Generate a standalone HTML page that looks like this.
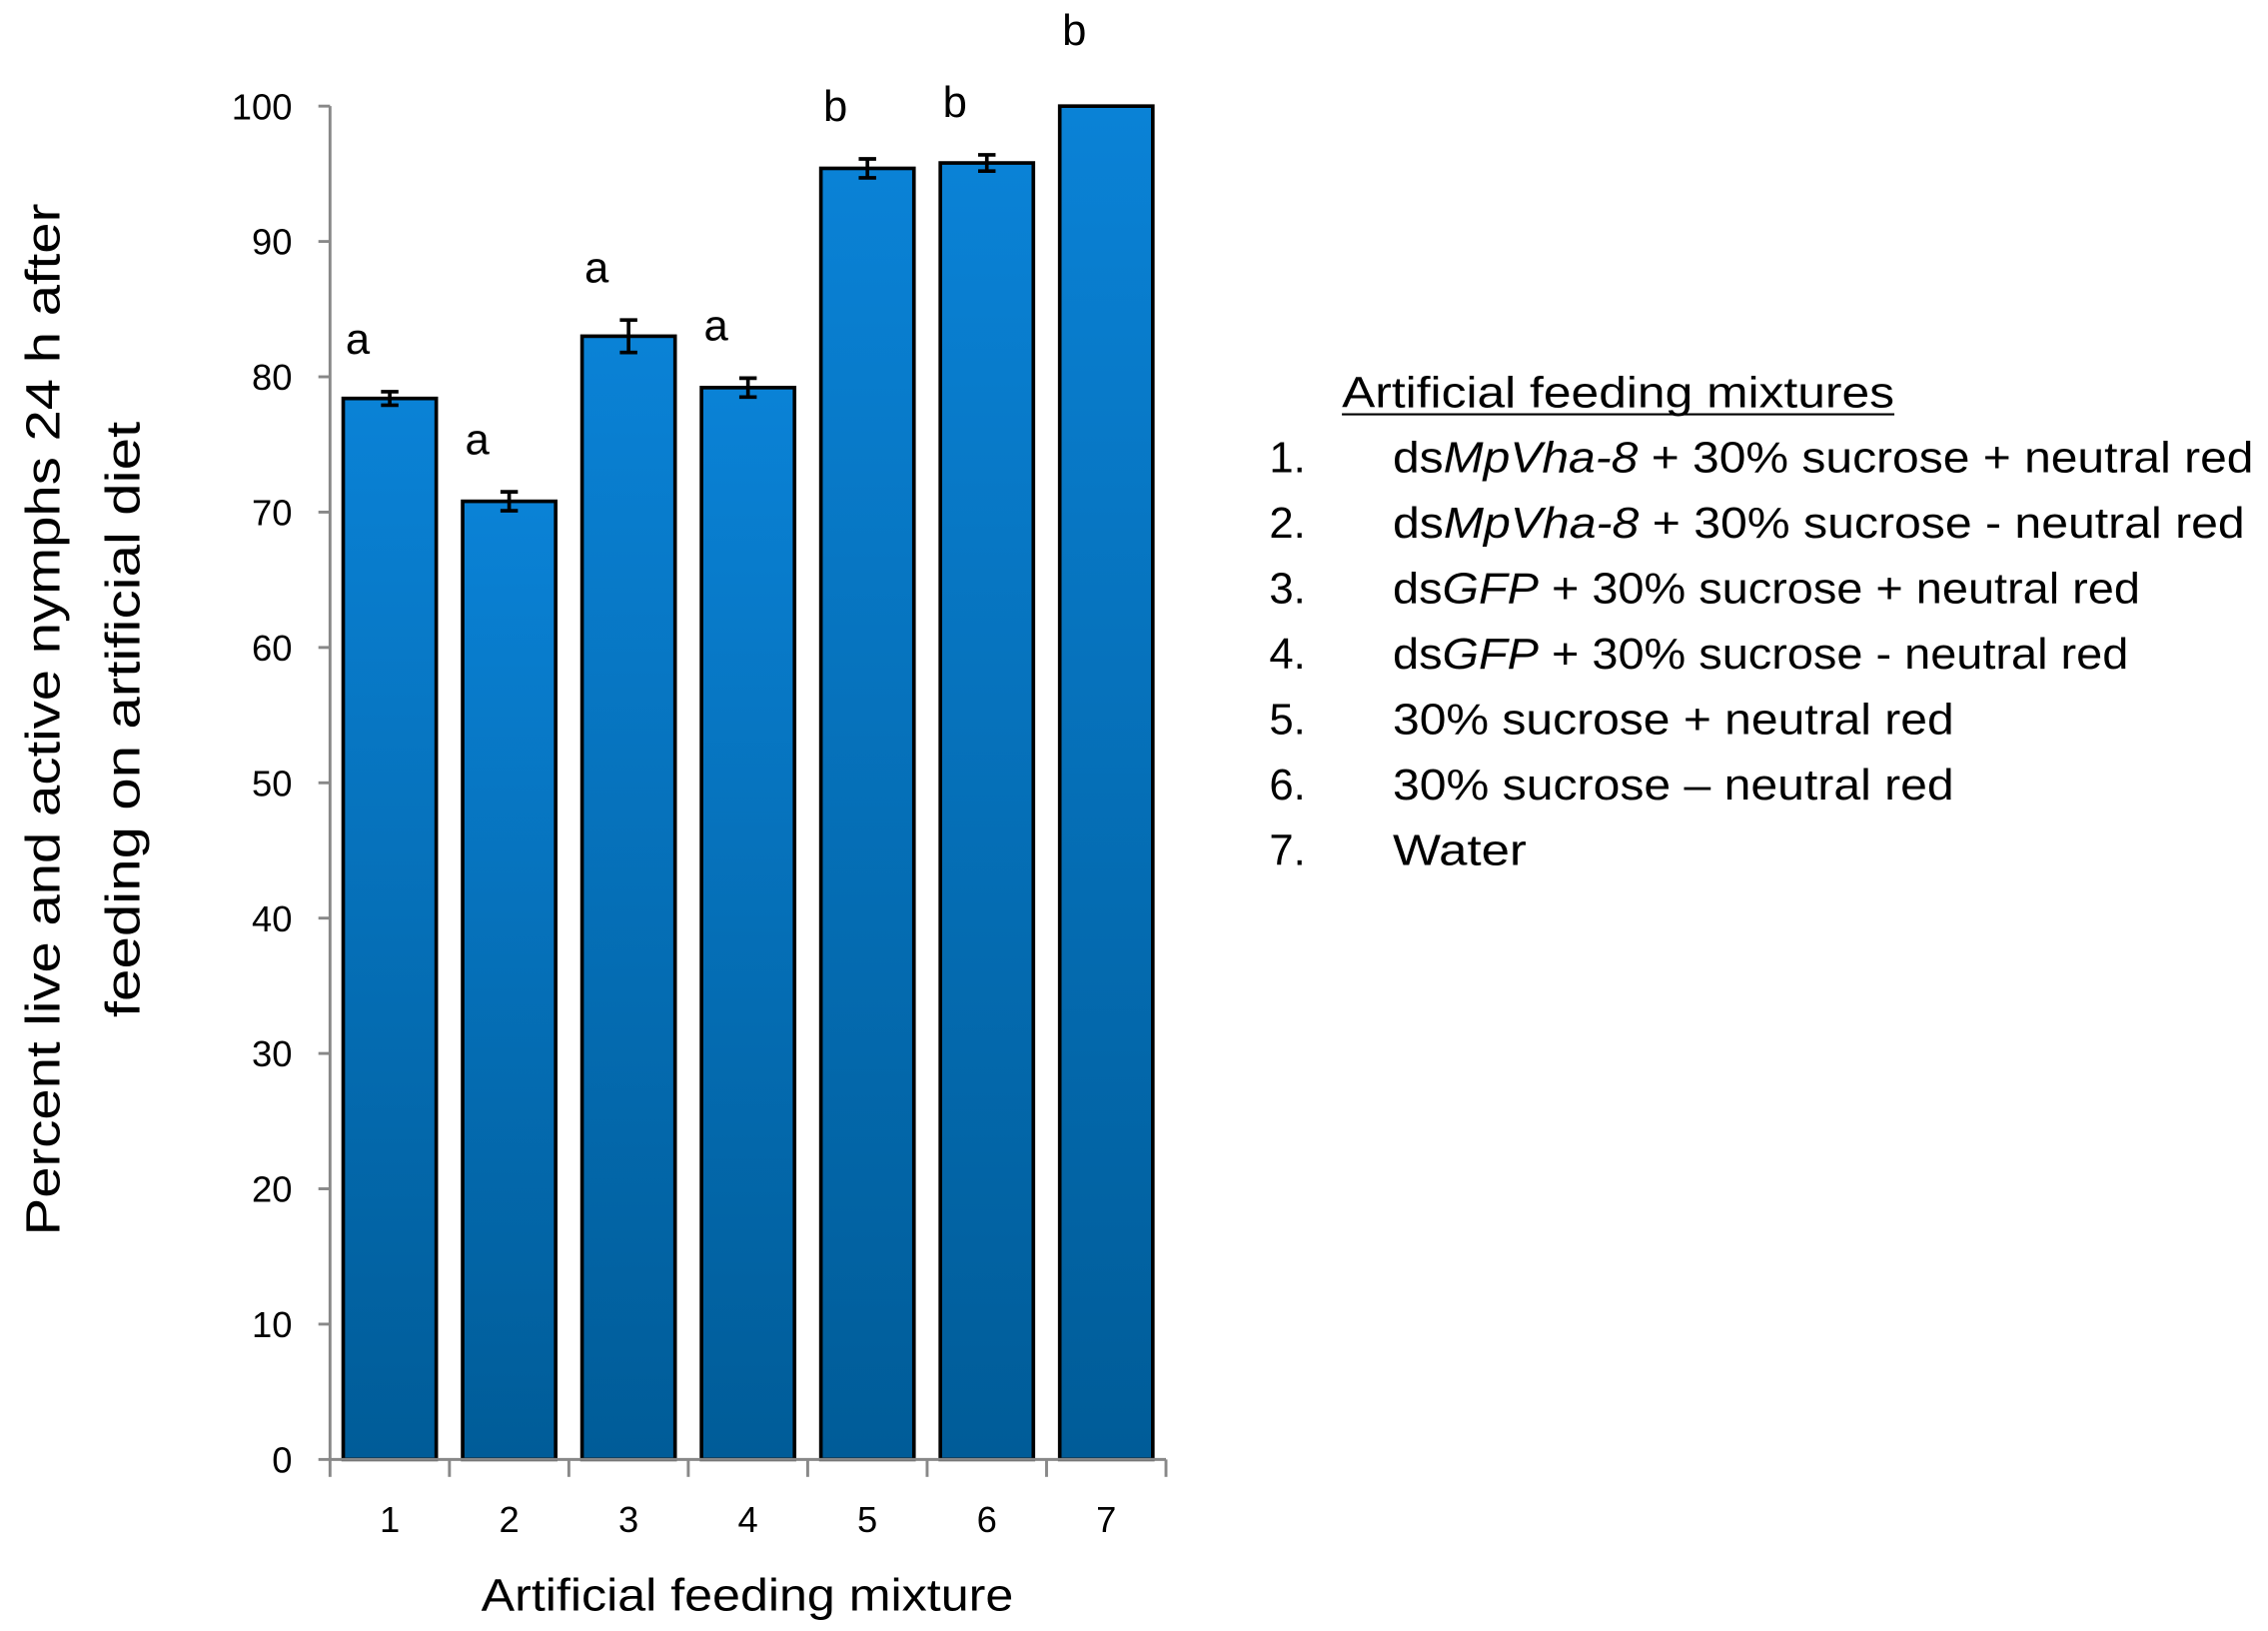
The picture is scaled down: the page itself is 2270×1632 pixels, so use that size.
<!DOCTYPE html>
<html><head><meta charset="utf-8"><style>html,body{margin:0;padding:0;background:#fff}svg{display:block}</style></head>
<body>
<svg id="chart" width="2270" height="1632" viewBox="0 0 1560 1122" preserveAspectRatio="none" xmlns="http://www.w3.org/2000/svg" font-family="'Liberation Sans', sans-serif">
<defs><linearGradient id="g" x1="0" y1="0" x2="0" y2="1"><stop offset="0" stop-color="#0a82d6"/><stop offset="1" stop-color="#005c98"/></linearGradient></defs>
<g id="bars"></g>
<g id="axes"></g>
<text transform="translate(41,495) rotate(-90)" text-anchor="middle" font-size="33" textLength="710" lengthAdjust="spacingAndGlyphs">Percent live and active nymphs 24 h after</text>
<text transform="translate(96,495) rotate(-90)" text-anchor="middle" font-size="33" textLength="410" lengthAdjust="spacingAndGlyphs">feeding on artificial diet</text>
<text x="514" y="1108" text-anchor="middle" font-size="31" textLength="366" lengthAdjust="spacingAndGlyphs">Artificial feeding mixture</text>
<g font-size="30">
<text x="923" y="280" textLength="380" lengthAdjust="spacingAndGlyphs">Artificial feeding mixtures</text>
<line x1="923" y1="285" x2="1303" y2="285" stroke="#000" stroke-width="1.5"/>
<text x="873" y="325">1.</text>
<text x="873" y="370">2.</text>
<text x="873" y="415">3.</text>
<text x="873" y="460">4.</text>
<text x="873" y="505">5.</text>
<text x="873" y="550">6.</text>
<text x="873" y="595">7.</text>
<text x="958" y="325" textLength="592" lengthAdjust="spacingAndGlyphs">ds<tspan font-style="italic">MpVha-8</tspan> + 30% sucrose + neutral red</text>
<text x="958" y="370" textLength="586" lengthAdjust="spacingAndGlyphs">ds<tspan font-style="italic">MpVha-8</tspan> + 30% sucrose - neutral red</text>
<text x="958" y="415" textLength="514" lengthAdjust="spacingAndGlyphs">ds<tspan font-style="italic">GFP</tspan> + 30% sucrose + neutral red</text>
<text x="958" y="460" textLength="506" lengthAdjust="spacingAndGlyphs">ds<tspan font-style="italic">GFP</tspan> + 30% sucrose - neutral red</text>
<text x="958" y="505" textLength="386" lengthAdjust="spacingAndGlyphs">30% sucrose + neutral red</text>
<text x="958" y="550" textLength="386" lengthAdjust="spacingAndGlyphs">30% sucrose – neutral red</text>
<text x="958" y="595" textLength="92" lengthAdjust="spacingAndGlyphs">Water</text>
</g>
<script>
const categories = ["1","2","3","4","5","6","7"];
const values = [78.4, 70.8, 83.0, 79.2, 95.4, 95.8, 100];
const errors = [0.5, 0.7, 1.2, 0.7, 0.7, 0.6, 0];
const letters = ["a","a","a","a","b","b","b"];
const yTicks = [0,10,20,30,40,50,60,70,80,90,100];

const NS="http://www.w3.org/2000/svg";
const X0=227, X1=802, Y0=1004, Y100=73;
const band=(X1-X0)/categories.length, barW=64;
const y=v=>Y0+(Y100-Y0)*v/100;
const xc=i=>X0+band*(i+0.5);
function mk(t,a,p){const e=document.createElementNS(NS,t);for(const k in a)e.setAttribute(k,a[k]);p.appendChild(e);return e;}
const bars=document.getElementById('bars'), axes=document.getElementById('axes');
categories.forEach((c,i)=>{
 const r=mk('rect',{x:xc(i)-barW/2,y:y(values[i]),width:barW,height:Y0-y(values[i]),fill:'url(#g)',stroke:'#000','stroke-width':2.5},bars);
 
 
 if(errors[i]>0){
  const g=mk('g',{stroke:'#000','stroke-width':2.5},bars);
  
  
  const t=y(values[i]+errors[i]), b=y(values[i]-errors[i]);
  mk('line',{x1:xc(i),x2:xc(i),y1:t,y2:b},g);
  mk('line',{x1:xc(i)-6,x2:xc(i)+6,y1:t,y2:t},g);
  mk('line',{x1:xc(i)-6,x2:xc(i)+6,y1:b,y2:b},g);
 }
 const off = errors[i]>0 ? 26 : 42;
 const lt=mk('text',{x:xc(i)-22,y:y(values[i]+errors[i])-off,'font-size':30,'text-anchor':'middle'},bars);
 lt.textContent=letters[i];
 
 
 const xl=mk('text',{x:xc(i),y:1054,'font-size':25,'text-anchor':'middle'},axes);
 xl.textContent=c;
 
 
});
mk('line',{x1:X0,x2:X0,y1:Y100,y2:Y0,stroke:'#888','stroke-width':2},axes);
mk('line',{x1:X0,x2:X1,y1:Y0,y2:Y0,stroke:'#888','stroke-width':2},axes);
for(let i=0;i<=categories.length;i++){mk('line',{x1:X0+band*i,x2:X0+band*i,y1:Y0,y2:Y0+12,stroke:'#888','stroke-width':2},axes);}
yTicks.forEach(v=>{
 mk('line',{x1:X0-8,x2:X0,y1:y(v),y2:y(v),stroke:'#888','stroke-width':2},axes);
 const t=mk('text',{x:X0-26,y:y(v)+9,'font-size':25,'text-anchor':'end'},axes);
 t.textContent=v;
 
 
});
</script>
</svg>
</body></html>
